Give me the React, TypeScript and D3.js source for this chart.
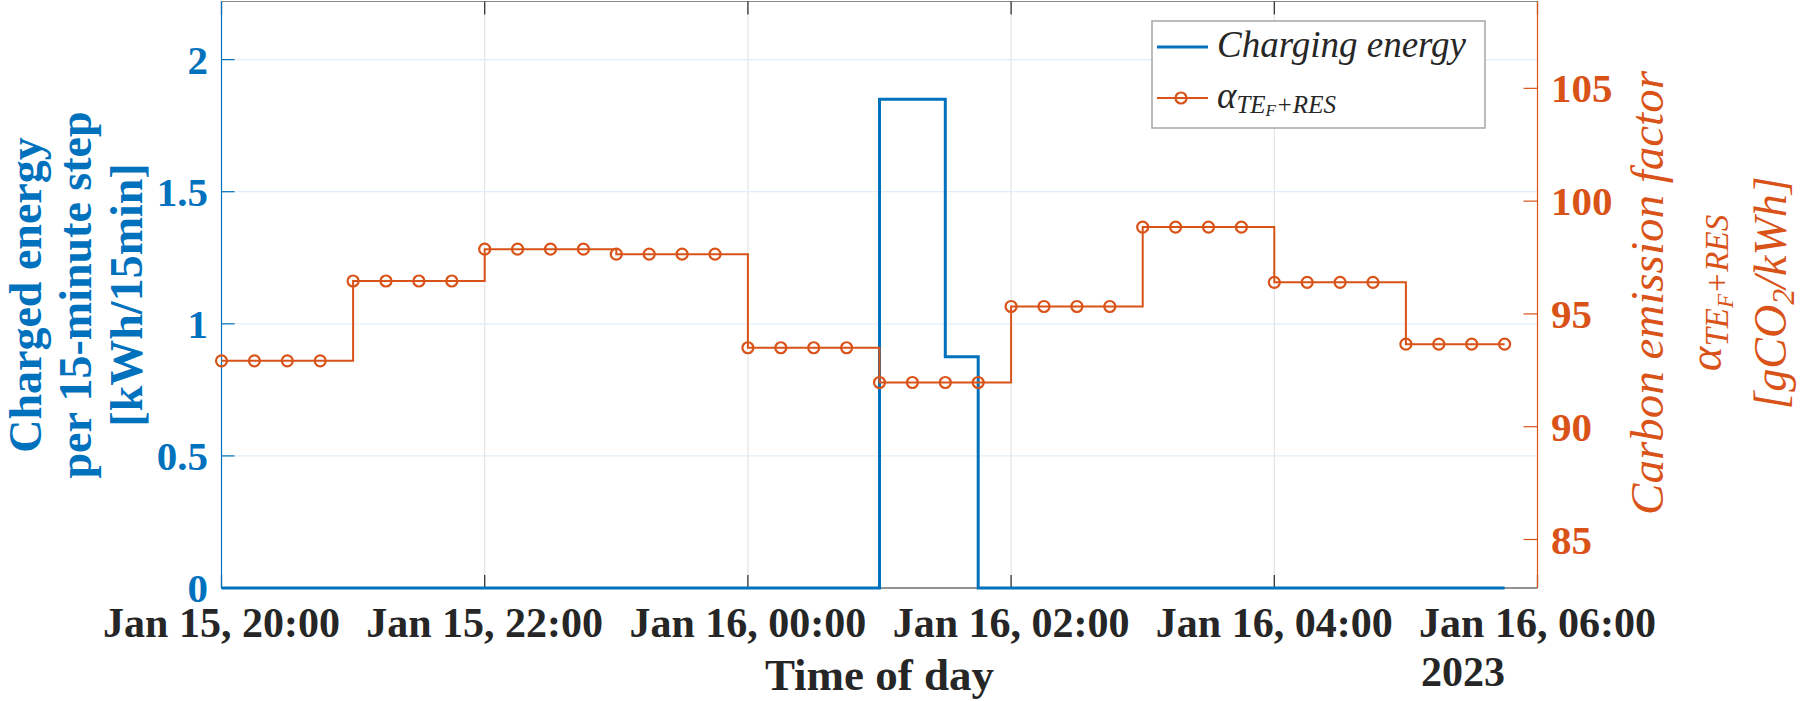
import React from 'react';
import * as d3 from 'd3';

// 15-minute steps, Jan 15 2023 20:00 -> Jan 16 05:45
const timeStamps = [
  '2023-01-15 20:00', '2023-01-15 20:15', '2023-01-15 20:30', '2023-01-15 20:45',
  '2023-01-15 21:00', '2023-01-15 21:15', '2023-01-15 21:30', '2023-01-15 21:45',
  '2023-01-15 22:00', '2023-01-15 22:15', '2023-01-15 22:30', '2023-01-15 22:45',
  '2023-01-15 23:00', '2023-01-15 23:15', '2023-01-15 23:30', '2023-01-15 23:45',
  '2023-01-16 00:00', '2023-01-16 00:15', '2023-01-16 00:30', '2023-01-16 00:45',
  '2023-01-16 01:00', '2023-01-16 01:15', '2023-01-16 01:30', '2023-01-16 01:45',
  '2023-01-16 02:00', '2023-01-16 02:15', '2023-01-16 02:30', '2023-01-16 02:45',
  '2023-01-16 03:00', '2023-01-16 03:15', '2023-01-16 03:30', '2023-01-16 03:45',
  '2023-01-16 04:00', '2023-01-16 04:15', '2023-01-16 04:30', '2023-01-16 04:45',
  '2023-01-16 05:00', '2023-01-16 05:15', '2023-01-16 05:30', '2023-01-16 05:45',
];

// kWh per 15 min
const chargingEnergy = [
  0, 0, 0, 0, 0, 0, 0, 0, 0, 0, 0, 0, 0, 0, 0, 0, 0, 0, 0, 0,
  1.85, 1.85, 0.875, 0, 0, 0, 0, 0, 0, 0, 0, 0, 0, 0, 0, 0, 0, 0, 0, 0,
];

// gCO2/kWh
const emissionFactor = [
  92.92, 92.92, 92.92, 92.92, 96.46, 96.46, 96.46, 96.46,
  97.87, 97.87, 97.87, 97.87, 97.65, 97.65, 97.65, 97.65,
  93.5, 93.5, 93.5, 93.5, 91.96, 91.96, 91.96, 91.96,
  95.33, 95.33, 95.33, 95.33, 98.85, 98.85, 98.85, 98.85,
  96.4, 96.4, 96.4, 96.4, 93.66, 93.66, 93.66, 93.66,
];

const xTickStamps = [
  '2023-01-15 20:00', '2023-01-15 22:00', '2023-01-16 00:00',
  '2023-01-16 02:00', '2023-01-16 04:00', '2023-01-16 06:00',
];
const xTickLabels = [
  'Jan 15, 20:00', 'Jan 15, 22:00', 'Jan 16, 00:00',
  'Jan 16, 02:00', 'Jan 16, 04:00', 'Jan 16, 06:00',
];
const leftTicks = [0, 0.5, 1, 1.5, 2];
const rightTicks = [85, 90, 95, 100, 105];

const BLUE = '#0072BD';
const ORANGE = '#D95319';
const DARK = '#262626';

export default function App() {
  const parse = d3.timeParse('%Y-%m-%d %H:%M');
  const times = timeStamps.map(s => parse(s) as Date);
  const tickTimes = xTickStamps.map(s => parse(s) as Date);

  const left = 221.5, right = 1537.5, top = 1.5, bottom = 588;

  const x = d3.scaleTime()
    .domain([tickTimes[0], tickTimes[tickTimes.length - 1]])
    .range([left, right]);
  const yL = d3.scaleLinear().domain([0, 2.22]).range([bottom, top]);
  const yR = d3.scaleLinear().domain([82.85, 108.85]).range([bottom, top]);

  const stepL = d3.line<number>()
    .x((_, i) => x(times[i]))
    .y(d => yL(d))
    .curve(d3.curveStepAfter);
  const stepR = d3.line<number>()
    .x((_, i) => x(times[i]))
    .y(d => yR(d))
    .curve(d3.curveStepAfter);

  return (
    <svg width={1800} height={701}
      style={{ position: 'absolute', left: 0, top: 0, background: '#fff' }}
      fontFamily="'Liberation Serif', 'Times New Roman', serif">
      {/* grid */}
      {tickTimes.slice(1, -1).map((t, i) => (
        <line key={'gx' + i} x1={x(t)} x2={x(t)} y1={top} y2={bottom} stroke="#e4e4e4" strokeWidth={1.2} />
      ))}
      {leftTicks.slice(1).map((v, i) => (
        <line key={'gy' + i} x1={left} x2={right} y1={yL(v)} y2={yL(v)} stroke="#e2edf7" strokeWidth={1.2} />
      ))}

      {/* box top + bottom axis */}
      <line x1={left} x2={right} y1={top} y2={top} stroke="#8a8a8a" strokeWidth={1.2} />
      <line x1={left} x2={right} y1={bottom} y2={bottom} stroke={DARK} strokeWidth={1.2} />
      {tickTimes.map((t, i) => (
        <g key={'xt' + i}>
          <line x1={x(t)} x2={x(t)} y1={bottom} y2={bottom - 13} stroke={DARK} strokeWidth={1.2} />
          <line x1={x(t)} x2={x(t)} y1={top} y2={top + 13} stroke={DARK} strokeWidth={1.2} />
          <text x={x(t)} y={637} textAnchor="middle" fontSize={42} fontWeight="bold" fill={DARK}>
            {xTickLabels[i]}
          </text>
        </g>
      ))}
      <text x={1421} y={686} fontSize={42} fontWeight="bold" fill={DARK}>2023</text>
      <text x={(left + right) / 2} y={690} textAnchor="middle" fontSize={45} fontWeight="bold" fill={DARK}>Time of day</text>

      {/* left axis */}
      <line x1={left} x2={left} y1={top} y2={bottom} stroke={BLUE} strokeWidth={1.2} />
      {leftTicks.map((v, i) => (
        <g key={'yl' + i}>
          <line x1={left} x2={left + 13} y1={yL(v)} y2={yL(v)} stroke={BLUE} strokeWidth={1.2} />
          <text x={208} y={yL(v) + 14} textAnchor="end" fontSize={41} fontWeight="bold" fill={BLUE}>{v}</text>
        </g>
      ))}
      <g transform="translate(0,295) rotate(-90)" fill={BLUE} fontWeight="bold" fontSize={46} textAnchor="middle">
        <text x={0} y={41}>Charged energy</text>
        <text x={0} y={91}>per 15-minute step</text>
        <text x={0} y={142}>[kWh/15min]</text>
      </g>

      {/* right axis */}
      <line x1={right} x2={right} y1={top} y2={bottom} stroke={ORANGE} strokeWidth={1.2} />
      {rightTicks.map((v, i) => (
        <g key={'yr' + i}>
          <line x1={right} x2={right - 14} y1={yR(v)} y2={yR(v)} stroke={ORANGE} strokeWidth={1.2} />
          <text x={1551} y={yR(v) + 14} fontSize={41} fontWeight="bold" fill={ORANGE}>{v}</text>
        </g>
      ))}
      <g transform="translate(0,293) rotate(-90)" fill={ORANGE} fontStyle="italic" textAnchor="middle">
        <text x={0} y={1663} fontSize={47}>Carbon emission  factor</text>
        <text x={0} y={1721} fontSize={47}>
          α<tspan fontSize={33} dy={7}>TE</tspan><tspan fontSize={23} dy={5}>F</tspan><tspan fontSize={33} dy={-5}>+RES</tspan>
        </text>
        <text x={0} y={1786} fontSize={46}>
          [gCO<tspan fontSize={32} dy={8}>2</tspan><tspan dy={-8}>/kWh]</tspan>
        </text>
      </g>

      {/* series */}
      <path d={stepL(chargingEnergy) || ''} fill="none" stroke={BLUE} strokeWidth={3} />
      <path d={stepR(emissionFactor) || ''} fill="none" stroke={ORANGE} strokeWidth={2} />
      {emissionFactor.map((v, i) => (
        <circle key={'m' + i} cx={x(times[i])} cy={yR(v)} r={5.5} fill="none" stroke={ORANGE} strokeWidth={2.2} />
      ))}

      {/* legend */}
      <rect x={1152} y={21} width={333} height={107} fill="#fff" stroke="#a6a6a6" strokeWidth={1.5} />
      <line x1={1157} x2={1208} y1={47} y2={47} stroke={BLUE} strokeWidth={3} />
      <text x={1217} y={57} fontSize={37} fontStyle="italic" fill={DARK}>Charging energy</text>
      <line x1={1157} x2={1208} y1={98} y2={98} stroke={ORANGE} strokeWidth={2} />
      <circle cx={1181} cy={98} r={5.5} fill="none" stroke={ORANGE} strokeWidth={2.2} />
      <text x={1217} y={108} fontSize={37} fontStyle="italic" fill={DARK}>
        α<tspan fontSize={25} dy={5}>TE</tspan><tspan fontSize={17} dy={3}>F</tspan><tspan fontSize={25} dy={-3}>+RES</tspan>
      </text>
    </svg>
  );
}
